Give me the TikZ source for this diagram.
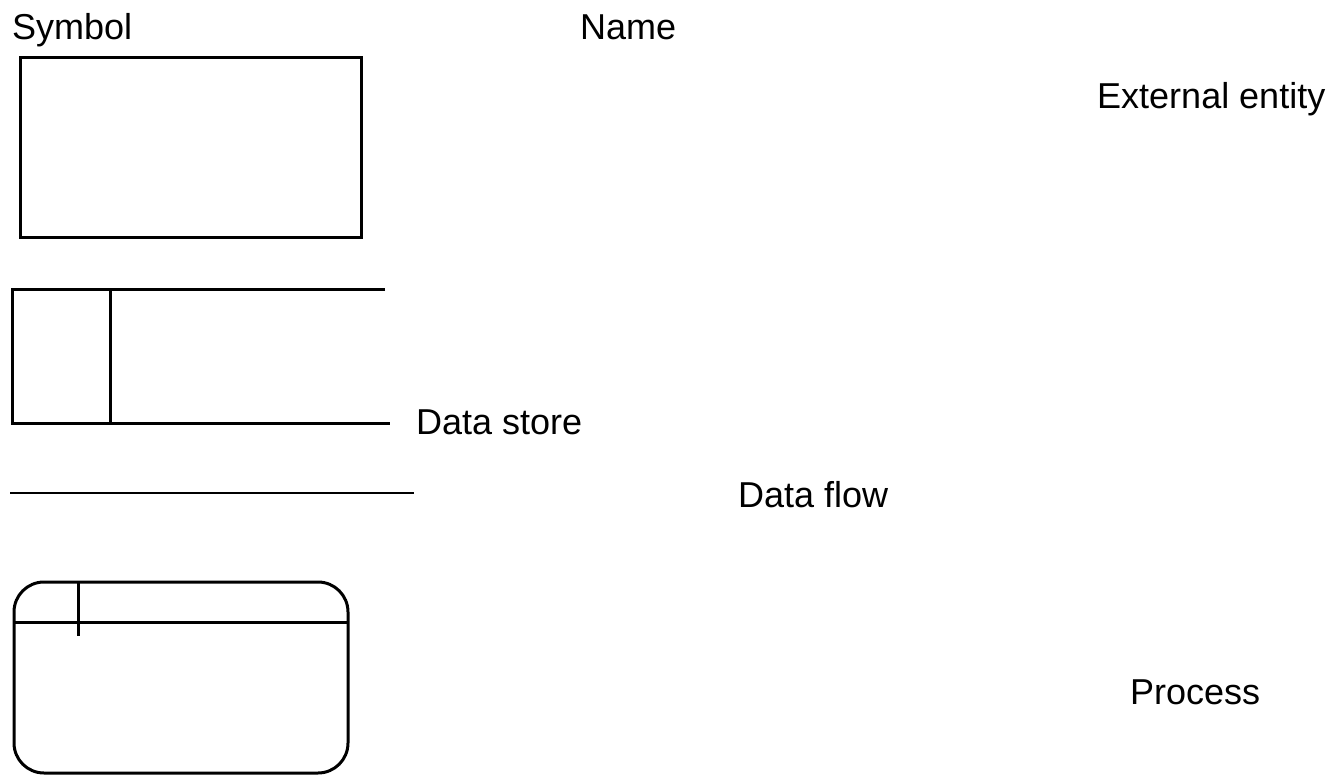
\documentclass[tikz,border=0pt]{standalone}
\usepackage{fontspec}
\setmainfont{Liberation Sans}
\begin{document}
\begin{tikzpicture}[x=1pt,y=-1pt,
  label/.style={anchor=base west,inner sep=0pt,font=\fontsize{36}{40}\selectfont},
  symline/.style={line width=3pt,line join=miter},
  flowline/.style={line width=2pt}]
\useasboundingbox (0,0) rectangle (1344,776);

% column headings
\node[label] (hsym) at (12,40) {Symbol};
\node[label] (hname) at (580,40) {Name};

% external entity
\draw[symline] (20,58) rectangle (361,237);
\node[label] (ext) at (1097,108) {External entity};

% data store
\draw[symline] (385,289) -- (12,289) -- (12,423) -- (390,423);
\draw[symline] (110,289) -- (110,423);
\node[label] (store) at (416,434) {Data store};

% data flow
\draw[flowline] (10,493) -- (414,493);
\node[label] (flow) at (738,507) {Data flow};

% process
\draw[symline,rounded corners=30pt] (14,582) rectangle (348,773);
\draw[symline] (14,622) -- (348,622);
\draw[symline] (78,582) -- (78,636);
\node[label] (proc) at (1130,704) {Process};
\end{tikzpicture}
\end{document}
